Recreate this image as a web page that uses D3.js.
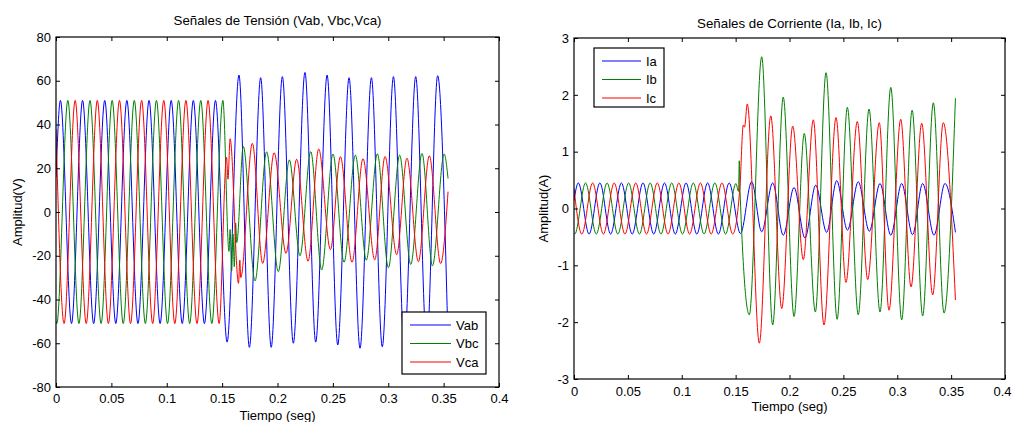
<!DOCTYPE html>
<html><head><meta charset="utf-8">
<script src="https://cdn.jsdelivr.net/npm/d3@7/dist/d3.min.js"></script>
<style>
body{margin:0;background:#fff}
text{font-family:Arial,"Liberation Sans",sans-serif;font-size:13px;fill:#000}
</style>
</head><body>
<svg id="c" width="1013" height="422"></svg>
<script>
// ---- data (extrema: [time s, value]) ----
const xTicks = [0, 0.05, 0.1, 0.15, 0.2, 0.25, 0.3, 0.35, 0.4];
const vTicks = [-80, -60, -40, -20, 0, 20, 40, 60, 80];
const iTicks = [-3, -2, -1, 0, 1, 2, 3];

const vab = [[0,16],
 [0.004,51],[0.014,-51],[0.024,51],[0.034,-51],[0.044,51],[0.054,-51],[0.064,51],[0.074,-51],
 [0.084,51],[0.094,-51],[0.104,51],[0.114,-51],[0.124,51],[0.134,-51],[0.144,51],
 [0.1545,-59.5],[0.1652,62.6],[0.1746,-61.9],[0.1848,61.4],[0.1943,-61.9],[0.2044,61.9],[0.2143,-60],
 [0.2248,63.8],[0.2345,-59.5],[0.2448,62.6],[0.2544,-60.8],[0.2646,61.4],[0.2745,-62.3],[0.2848,61.4],
 [0.2946,-61.6],[0.3047,61.9],[0.3145,-61],[0.3248,61.9],[0.3347,-61],[0.3446,62.3],[0.354,-60]];

const vbc = [[0,-50],
 [0.0007,-51],[0.0107,51],[0.0207,-51],[0.0307,51],[0.0407,-51],[0.0507,51],[0.0607,-51],[0.0707,51],
 [0.0807,-51],[0.0907,51],[0.1007,-51],[0.1107,51],[0.1207,-51],[0.1307,51],[0.1407,-51],[0.1507,51],
 [0.1562,-18],[0.1572,-8],[0.1586,-27],[0.1598,-10],[0.1610,-25],[0.1622,-5],[0.1632,-14],
 [0.1691,30],[0.1797,-31.5],[0.1902,27.5],[0.2007,-27.3],[0.2107,23.8],[0.2203,-20],[0.2300,27.6],
 [0.2399,-26.5],[0.2501,26.5],[0.2601,-23],[0.2703,26],[0.2802,-22],[0.2902,26.6],[0.3001,-25.5],
 [0.3103,26],[0.3203,-24],[0.3305,26.8],[0.3399,-24.6],[0.3505,26.5],[0.354,15.3]];

const vca = [[0,38],
 [0.0073,-51],[0.0173,51],[0.0273,-51],[0.0373,51],[0.0473,-51],[0.0573,51],[0.0673,-51],[0.0773,51],
 [0.0873,-51],[0.0973,51],[0.1073,-51],[0.1173,51],[0.1273,-51],[0.1373,51],[0.1473,-51],
 [0.1540,25],[0.1553,15],[0.1572,33.5],[0.1648,-32.6],[0.1660,-22],[0.1668,-30],[0.1773,31.4],
 [0.1866,-23.5],[0.1970,27.1],[0.2077,-18.9],[0.2173,24.1],[0.2276,-22.5],[0.2372,28.8],[0.2478,-17.2],
 [0.2568,25.3],[0.2673,-23],[0.2772,24.4],[0.2878,-21.9],[0.2971,25.4],[0.3076,-19.5],[0.3169,24.6],
 [0.3272,-22.7],[0.3371,25.7],[0.3473,-23.6],[0.354,9.3]];

const ia = [[0,0.14],
 [0.004,0.45],[0.014,-0.45],[0.024,0.45],[0.034,-0.45],[0.044,0.45],[0.054,-0.45],[0.064,0.45],[0.074,-0.45],
 [0.084,0.45],[0.094,-0.45],[0.104,0.45],[0.114,-0.45],[0.124,0.45],[0.134,-0.45],[0.144,0.45],[0.1545,-0.44],
 [0.1649,0.47],[0.1742,-0.41],[0.1844,0.45],[0.1942,-0.47],[0.2042,0.37],[0.2144,-0.52],[0.2243,0.41],
 [0.2345,-0.42],[0.2438,0.49],[0.2538,-0.38],[0.2638,0.47],[0.2741,-0.4],[0.2840,0.44],[0.2940,-0.47],
 [0.3041,0.44],[0.3142,-0.46],[0.3236,0.44],[0.3341,-0.47],[0.3443,0.44],[0.354,-0.42]];

const ib = [[0,-0.44],
 [0.0007,-0.45],[0.0107,0.45],[0.0207,-0.45],[0.0307,0.45],[0.0407,-0.45],[0.0507,0.45],[0.0607,-0.45],
 [0.0707,0.45],[0.0807,-0.45],[0.0907,0.45],[0.1007,-0.45],[0.1107,0.45],[0.1207,-0.45],[0.1307,0.45],
 [0.1407,-0.45],[0.1503,0.44],[0.1527,0.3],[0.1534,0.84],[0.1541,0.3],
 [0.1627,-1.87],[0.1742,2.67],[0.1844,-2.05],[0.1942,1.96],[0.2042,-1.9],[0.2137,1.32],[0.2240,-1.82],
 [0.2339,2.39],[0.2442,-1.95],[0.2537,1.78],[0.2638,-1.87],[0.2738,1.75],[0.2840,-1.82],[0.2940,2.13],
 [0.3041,-1.96],[0.3138,1.73],[0.3236,-1.89],[0.3335,1.86],[0.3434,-1.84],[0.354,1.94]];

const ic = [[0,0.35],
 [0.0073,-0.45],[0.0173,0.45],[0.0273,-0.45],[0.0373,0.45],[0.0473,-0.45],[0.0573,0.45],[0.0673,-0.45],
 [0.0773,0.45],[0.0873,-0.45],[0.0973,0.45],[0.1073,-0.45],[0.1173,0.45],[0.1273,-0.45],[0.1373,0.45],
 [0.1473,-0.45],[0.1540,0.38],[0.1571,1.47],[0.1583,1.43],[0.1608,1.84],
 [0.1720,-2.37],[0.1826,1.63],[0.1928,-1.76],[0.2030,1.45],[0.2128,-0.9],[0.2221,1.56],[0.2320,-2.05],
 [0.2432,1.6],[0.2524,-1.3],[0.2629,1.53],[0.2726,-1.25],[0.2833,1.51],[0.2923,-1.79],[0.3032,1.57],
 [0.3128,-1.38],[0.3227,1.5],[0.3329,-1.52],[0.3427,1.51],[0.354,-1.61]];

const vNames = ["Vab", "Vbc", "Vca"];
const iNames = ["Ia", "Ib", "Ic"];
const colors = ["#0000ff", "#008000", "#ff0000"];

// ---- drawing ----
const svg = d3.select("#c");
svg.append("rect").attr("width",1013).attr("height",422).attr("fill","#fff");

function panel(o) {
  const x = d3.scaleLinear().domain([0, 0.4]).range([o.x0, o.x1]);
  const y = d3.scaleLinear().domain(o.yDomain).range([o.y1, o.y0]);
  const g = svg.append("g");
  const cid = "clip" + o.id;
  svg.append("clipPath").attr("id", cid).append("rect")
    .attr("x", o.x0).attr("y", o.y0).attr("width", o.x1 - o.x0).attr("height", o.y1 - o.y0);

  const line = d3.line().x(d => x(d[0])).y(d => y(d[1])).curve(d3.curveMonotoneX);
  const lg = g.append("g").attr("clip-path", `url(#${cid})`);
  o.series.forEach((s, i) => {
    lg.append("path").attr("d", line(s)).attr("fill", "none")
      .attr("stroke", colors[i]).attr("stroke-width", 1);
  });

  const fmt = d => String(d);
  const bottom = g.append("g").attr("transform", `translate(0,${o.y1})`)
    .call(d3.axisBottom(x).tickValues(xTicks).tickFormat(fmt).tickSizeInner(-4).tickSizeOuter(0).tickPadding(o.xPad));
  const top = g.append("g").attr("transform", `translate(0,${o.y0})`)
    .call(d3.axisTop(x).tickValues(xTicks).tickFormat("").tickSizeInner(-4).tickSizeOuter(0));
  const left = g.append("g").attr("transform", `translate(${o.x0},0)`)
    .call(d3.axisLeft(y).tickValues(o.yTicks).tickFormat(fmt).tickSizeInner(-4).tickSizeOuter(0).tickPadding(5));
  const right = g.append("g").attr("transform", `translate(${o.x1},0)`)
    .call(d3.axisRight(y).tickValues(o.yTicks).tickFormat("").tickSizeInner(-4).tickSizeOuter(0));
  [bottom, top, left, right].forEach(a => {
    a.select(".domain").remove();
    a.selectAll("line").attr("stroke", "#000");
    a.selectAll("text").attr("font-family", null).attr("font-size", null).style("fill", "#000");
  });
  // keep the last x label inside the picture
  bottom.selectAll(".tick text").filter(d => d === 0.4).attr("dx", o.lastDx);

  g.append("rect").attr("x", o.x0).attr("y", o.y0).attr("width", o.x1 - o.x0).attr("height", o.y1 - o.y0)
    .attr("fill", "none").attr("stroke", "#000").attr("stroke-width", 1.2);

  g.append("text").attr("x", (o.x0 + o.x1) / 2).attr("y", o.titleY).attr("text-anchor", "middle")
    .style("font-size", "13.3px").text(o.title);
  g.append("text").attr("x", (o.x0 + o.x1) / 2).attr("y", o.xLabY).attr("text-anchor", "middle").text("Tiempo (seg)");
  g.append("text").attr("transform", `translate(${o.yLabX},${(o.y0 + o.y1) / 2}) rotate(-90)`)
    .attr("text-anchor", "middle").text(o.yLabel);

  // legend
  const L = o.legend;
  g.append("rect").attr("x", L.x).attr("y", L.y).attr("width", L.w).attr("height", L.h)
    .attr("fill", "#fff").attr("stroke", "#000").attr("stroke-width", 1.2);
  o.names.forEach((n, i) => {
    const yy = L.y + L.first + i * L.step;
    g.append("line").attr("x1", L.x + 8).attr("x2", L.x + 8 + L.len).attr("y1", yy).attr("y2", yy)
      .attr("stroke", colors[i]).attr("stroke-width", 1.2);
    g.append("text").attr("x", L.x + 13 + L.len).attr("y", yy).attr("dy", "0.35em").text(n);
  });
}

panel({id: "v", x0: 56, x1: 499, y0: 37, y1: 387, yDomain: [-80, 80], yTicks: vTicks,
  series: [vab, vbc, vca], names: vNames, xPad: 6.4, lastDx: 0,
  title: "Señales de Tensión (Vab, Vbc,Vca)", titleY: 25, xLabY: 420, yLabX: 22, yLabel: "Amplitud(V)",
  legend: {x: 402, y: 312, w: 84, h: 62, first: 13, step: 18.5, len: 41}});

panel({id: "i", x0: 574, x1: 1005, y0: 38, y1: 379, yDomain: [-3, 3], yTicks: iTicks,
  series: [ia, ib, ic], names: iNames, xPad: 8.2, lastDx: -3,
  title: "Señales de Corriente (Ia, Ib, Ic)", titleY: 28, xLabY: 411, yLabX: 548, yLabel: "Amplitud(A)",
  legend: {x: 594, y: 48, w: 70, h: 59, first: 13, step: 18.5, len: 39}});
</script>
</body></html>
